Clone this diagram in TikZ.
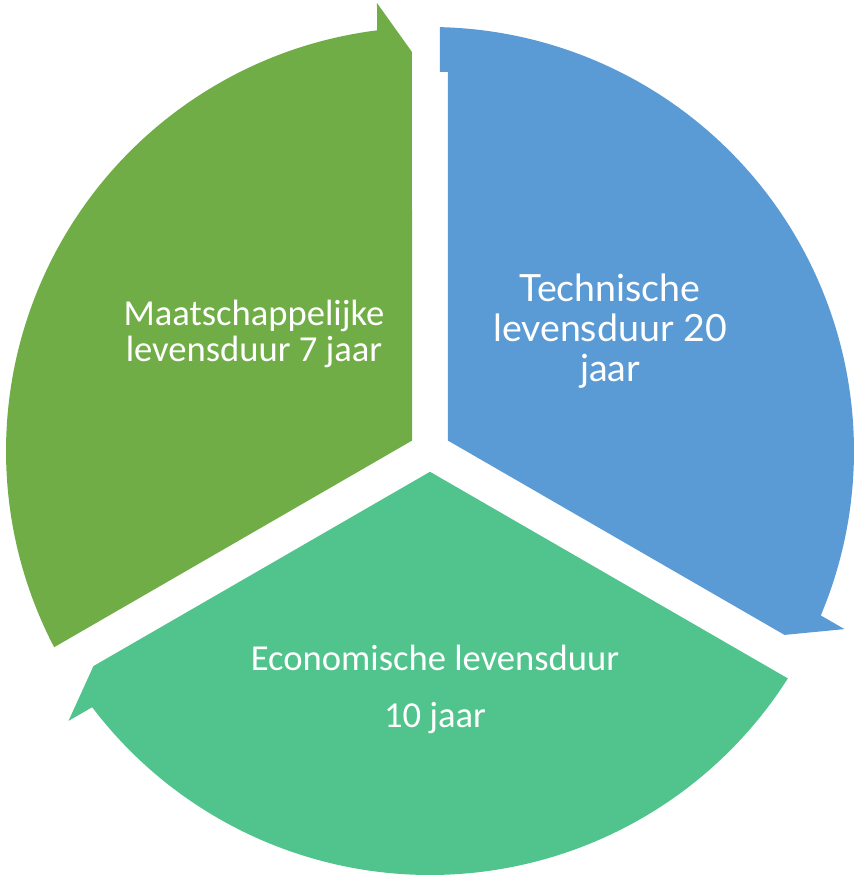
\documentclass[tikz,border=0pt]{standalone}
\usepackage{fontspec}
\setmainfont{Carlito}
\newfontfamily\latofont{Lato}
\usetikzlibrary{calc}

\definecolor{olijf}{RGB}{112,173,71}
\definecolor{hemel}{RGB}{91,155,213}
\definecolor{munt}{RGB}{80,196,140}

\begin{document}
\begin{tikzpicture}[
    x=1pt, y=1pt,
    segment/.style={fill=#1, draw=none},
    txt/.style={text=white, align=center, inner sep=0pt, font=\fontsize{36.6}{36.7}\selectfont}
]
    \useasboundingbox (-430,-428) rectangle (426,451);

    % Segments: one wedge with its arrow tip, turned three times (\n = tail offset)
    \foreach \rot/\col/\n in {0/olijf/18, -120/hemel/10, 120/munt/18} {
        \fill[segment=\col, rotate=\rot]
            (150:20.78) -- (-18,399) -- (-53,448) -- (97.18:424)
            arc[start angle=97.18, end angle={210-asin(\n/424)}, radius=424]
            -- ($(210:379)+(120:\n)$) -- ($(210:379)+(120:18)$) -- cycle;
    }

    % Labels (base = last line)
    \node[txt, anchor=base] (maatschappelijk) at (-176,89.3) {Maatschappelijke\\levensduur 7 jaar};
    \node[txt, font=\latofont\fontsize{37.5}{40}\selectfont, anchor=base] (technisch) at (180,69.3) {Technische\\levensduur 20\\jaar};
    \node[txt, anchor=base] (economisch) at (5,-276) {Economische levensduur\\[20.3pt]10 jaar};
\end{tikzpicture}
\end{document}
